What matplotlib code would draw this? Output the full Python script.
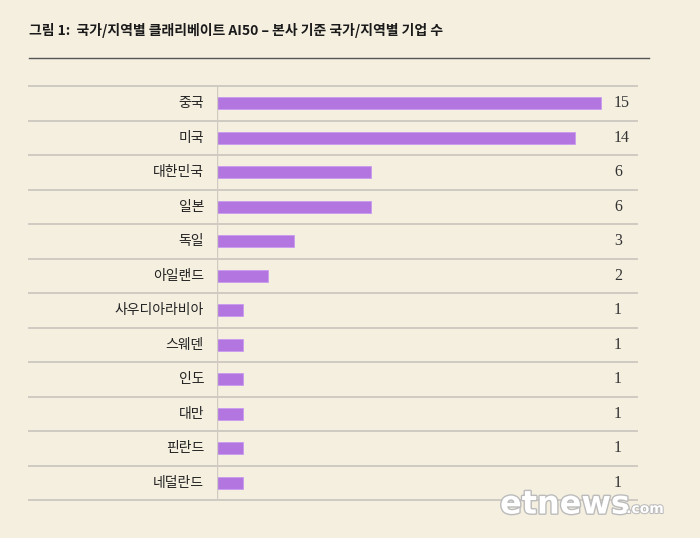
import matplotlib.pyplot as plt
import matplotlib.patheffects as pe
from matplotlib.patches import Rectangle

plt.rcParams['font.family'] = ['Noto Sans CJK KR', 'DejaVu Sans']

countries = ["중국", "미국", "대한민국", "일본", "독일", "아일랜드",
             "사우디아라비아", "스웨덴", "인도", "대만", "핀란드", "네덜란드"]
counts = [15, 14, 6, 6, 3, 2, 1, 1, 1, 1, 1, 1]
title = "그림 1:  국가/지역별 클래리베이트 AI50 – 본사 기준 국가/지역별 기업 수"

BG = "#f5efe0"
BAR = "#b375e0"
GRID = "#cfcac2"

W, H = 700, 538
fig = plt.figure(figsize=(W / 100, H / 100), dpi=100, facecolor=BG)

# axes placed in pixel terms: x 217..637, y 86..500
left, right, top, bottom = 217, 637, 86, 500
ax = fig.add_axes([left / W, 1 - bottom / H, (right - left) / W, (bottom - top) / H])
ax.set_facecolor(BG)

n = len(countries)
ypos = list(range(n))
ax.barh(ypos, counts, height=0.36, color=BAR, edgecolor="#c99af0", linewidth=0.6)
ax.set_ylim(n - 0.5, -0.5)
ax.set_xlim(0, 420 / 25.6)

for s in ax.spines.values():
    s.set_visible(False)
ax.axvline(0, color=GRID, lw=1.0)
ax.set_xticks([])
ax.set_yticks([])

# row separators extending left past the axes
x0 = (29 - left) / (right - left)
for i in range(n + 1):
    ax.plot([x0, 1], [i - 0.5, i - 0.5], transform=ax.get_yaxis_transform(),
            color=GRID, lw=1.4, clip_on=False)

for i, (c, v) in enumerate(zip(countries, counts)):
    ax.text((204 - left) / (right - left), i, c, transform=ax.get_yaxis_transform(),
            ha="right", va="center", fontsize=10, fontweight="medium", color="#222222")
    ax.text((614 - left) / (right - left), i, str(v), transform=ax.get_yaxis_transform(),
            ha="left", va="center", fontsize=11.5, color="#333333",
            family="Liberation Serif")

fig.text(29 / W, 1 - 30 / H, title, ha="left", va="center", fontsize=10,
         fontweight="bold", color="#1a1a1a")
fig.add_artist(plt.Line2D([29 / W, 649 / W], [1 - 58 / H, 1 - 58 / H], color="#555555", lw=1.0))

# bottom box (cut off at edge)
fig.add_artist(Rectangle((29 / W, -0.01), 620 / W, 4 / H, transform=fig.transFigure,
                         facecolor="#f3ecf5", edgecolor="#d8b8ee", lw=1.0))

# watermark
fig.text(565 / W, 1 - 505 / H, "etnews", ha="center", va="center", fontsize=23,
         fontweight="bold", color="white", family="DejaVu Sans",
         path_effects=[pe.withStroke(linewidth=2, foreground="#bbbbbb")])
fig.text(645 / W, 1 - 509 / H, ".com", ha="center", va="center", fontsize=10,
         fontweight="bold", color="white", family="DejaVu Sans",
         path_effects=[pe.withStroke(linewidth=1.5, foreground="#bbbbbb")])

fig.savefig("out.png", dpi=100, facecolor=BG)
